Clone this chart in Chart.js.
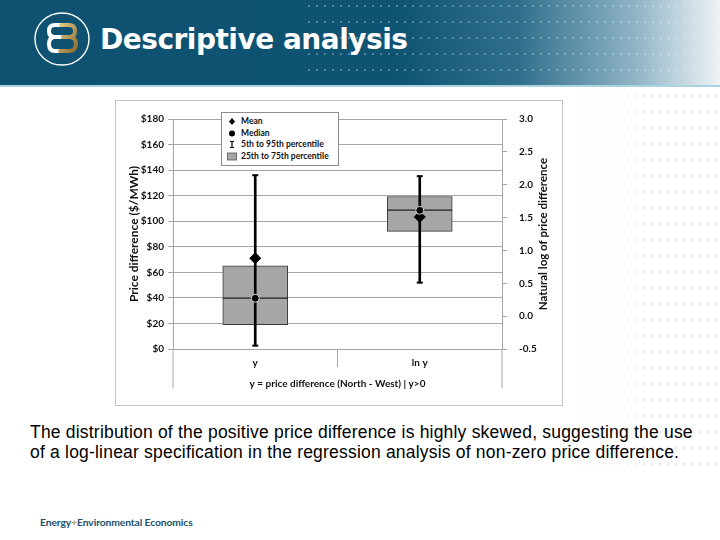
<!DOCTYPE html>
<html>
<head>
<meta charset="utf-8">
<script src="https://cdn.jsdelivr.net/npm/chart.js@4.4.0/dist/chart.umd.min.js"></script>
<style>
  html, body { margin: 0; padding: 0; }
  body { width: 720px; height: 540px; position: relative; overflow: hidden; background: #fff; font-family: 'Liberation Sans', Arial, sans-serif; }
  #header { position: absolute; left: 0; top: 0; width: 720px; height: 85px;
    background: linear-gradient(to right, #0e5171 0%, #0f5373 55%, #2f6f8c 72%, #8fb3c5 88%, #eef3f6 100%); }
  #header .dots { position: absolute; left: 305px; top: 0; width: 415px; height: 85px;
    background-image: radial-gradient(circle, rgba(255,255,255,0.28) 0.8px, transparent 1.2px);
    background-size: 8px 16px; background-position: 0 -2px; }
  #header .rule { position: absolute; left: 0; top: 85px; width: 720px; height: 2px; background: #a9d2e3; }
  #logo { position: absolute; left: 33px; top: 11px; }
  #title { position: absolute; left: 100px; top: 26px; color: #fff; font: bold 28px/1 'DejaVu Sans', Verdana, sans-serif; letter-spacing: -0.5px; }
  #sidedots { position: absolute; left: 560px; top: 88px; width: 160px; height: 390px;
    background-image: radial-gradient(circle, rgba(150,170,185,0.3) 0.8px, transparent 1.2px);
    background-size: 8px 16px;
    -webkit-mask-image: linear-gradient(to right, transparent, #000 70%); mask-image: linear-gradient(to right, transparent, #000 70%); }
  #chartBox { position: absolute; left: 115px; top: 100px; width: 446px; height: 304px; border: 1px solid #c4c4c4; background: #fff; }
  #chartBox canvas { display: block; }
  #legend { position: absolute; left: 221px; top: 112px; width: 118px; height: 54px; background: #fff; border: 1px solid #8c8c8c;
    font: bold 8.5px Lato, sans-serif; color: #111; padding-top: 3px; box-sizing: border-box; }
  #legend div { height: 11.5px; line-height: 11.5px; white-space: nowrap; position: relative; padding-left: 19px; }
  #legend svg { position: absolute; left: 6px; top: 1px; }
  #caption { position: absolute; left: 30px; top: 423px; font-size: 17.5px; line-height: 19.5px; letter-spacing: 0.2px; color: #000; white-space: nowrap; }
  #footer { position: absolute; left: 40px; top: 516px; font: bold 10.3px Lato, sans-serif; color: #22506c; letter-spacing: -0.1px; }
  #footer span { color: #c0a050; }
</style>
</head>
<body>
<div id="header">
  <div class="dots"></div>
  <div class="rule"></div>
  <svg id="logo" width="60" height="58" viewBox="0 0 60 58">
    <defs>
      <linearGradient id="gold" x1="0" y1="0" x2="1" y2="1">
        <stop offset="0" stop-color="#e0c883"/>
        <stop offset="1" stop-color="#8c6c2c"/>
      </linearGradient>
    </defs>
    <ellipse cx="29" cy="28" rx="27" ry="26" fill="none" stroke="#fff" stroke-width="1.4"/>
    <path d="M31 14 H22 Q16 14 16 20 Q16 26 22 26 H28 M22 26 Q16 26 16 33 Q16 40 22 40 H31" fill="none" stroke="#fff" stroke-width="4" stroke-linecap="round"/>
    <path d="M28 14 H36 Q42 14 42 20 Q42 26 36 26 H30 M36 26 Q43 26 43 33 Q43 40 36 40 H27" fill="none" stroke="url(#gold)" stroke-width="4" stroke-linecap="round"/>
  </svg>
  <div id="title">Descriptive analysis</div>
</div>
<div id="sidedots"></div>

<div id="chartBox"><canvas id="boxChart" width="446" height="304"></canvas></div>

<div id="legend">
  <div><svg width="8" height="9"><path d="M4 1 L7 4.5 L4 8 L1 4.5 Z" fill="#000"/></svg>Mean</div>
  <div><svg width="8" height="9"><circle cx="4" cy="4.5" r="3" fill="#000"/></svg>Median</div>
  <div><svg width="8" height="9"><path d="M2 1.5 H6 M4 1.5 V7.5 M2 7.5 H6" stroke="#000" stroke-width="1.2" fill="none"/></svg>5th to 95th percentile</div>
  <div><svg width="10" height="9" style="left:5px"><rect x="0.5" y="1" width="9" height="7" fill="#a6a6a6" stroke="#555" stroke-width="0.8"/></svg>25th to 75th percentile</div>
</div>

<div id="caption">The distribution of the positive price difference is highly skewed, suggesting the use<br>of a log-linear specification in the regression analysis of non-zero price difference.</div>

<div id="footer">Energy<span>+</span>Environmental Economics</div>

<script>
// categories (each one is read on its own axis: y in $/MWh, ln y on the right)
const categories = ['y', 'ln y'];
const p5 = [2.6, 0.51];
const p25 = [19, 1.29];
const median = [39.7, 1.61];
const mean = [71, 1.51];
const p75 = [65, 1.82];
const p95 = [136, 2.13];

const leftTicks = [0, 20, 40, 60, 80, 100, 120, 140, 160, 180];
const rightTicks = [-0.5, 0, 0.5, 1.0, 1.5, 2.0, 2.5, 3.0];

const axisIds = ['y', 'y1'];
const gridGray = '#a6a6a6';

// put value of category i only, null elsewhere
function onlyAt(i, v) {
    return categories.map((c, j) => (j === i ? v : null));
}

// marker for the median line across the box (an image, so the layout keeps no big point padding)
const medianBar = document.createElement('canvas');
medianBar.width = 65;
medianBar.height = 2;
const mctx = medianBar.getContext('2d');
mctx.fillStyle = '#1a1a1a';
mctx.fillRect(0, 0.5, 65, 1.3);

const datasets = [];
axisIds.forEach((axis, i) => {
    datasets.push({
        type: 'bar', yAxisID: axis, order: 6, grouped: false,
        data: onlyAt(i, [p25[i], p75[i]]),
        backgroundColor: '#a6a6a6', borderColor: '#3a3a3a', borderWidth: 1,
        borderSkipped: false, barThickness: 65
    });
    datasets.push({
        type: 'bar', yAxisID: axis, order: 5, grouped: false,
        data: onlyAt(i, [p5[i], p95[i]]),
        backgroundColor: '#000', borderWidth: 0, barThickness: 2
    });
    datasets.push({
        type: 'line', yAxisID: axis, order: 4, showLine: false,
        data: onlyAt(i, median[i]),
        pointStyle: medianBar, pointRadius: 1
    });
    [p5, p95].forEach(arr => {
        datasets.push({
            type: 'line', yAxisID: axis, order: 4, showLine: false,
            data: onlyAt(i, arr[i]),
            pointStyle: 'line', pointRadius: 3, borderColor: '#000', borderWidth: 2
        });
    });
    datasets.push({
        type: 'line', yAxisID: axis, order: 2, showLine: false,
        data: onlyAt(i, mean[i]),
        pointStyle: 'rectRot', pointRadius: 5.5, backgroundColor: '#000', borderColor: '#000', borderWidth: 1
    });
    datasets.push({
        type: 'line', yAxisID: axis, order: 1, showLine: false,
        data: onlyAt(i, median[i]),
        pointStyle: 'circle', pointRadius: 4, backgroundColor: '#000', borderColor: '#d8d8d8', borderWidth: 1
    });
});

// extra axis lines below the plot and the right axis title
const extras = {
    id: 'extras',
    afterDraw(chart) {
        const { ctx, chartArea, scales } = chart;
        const xs = scales.x;
        const mid = (xs.getPixelForTick(0) + xs.getPixelForTick(1)) / 2;
        ctx.save();
        ctx.strokeStyle = gridGray;
        ctx.lineWidth = 1;
        ctx.beginPath();
        [chartArea.left, chartArea.right].forEach(px => {
            ctx.moveTo(px, chartArea.bottom);
            ctx.lineTo(px, chartArea.bottom + 39);
        });
        ctx.moveTo(mid, chartArea.bottom);
        ctx.lineTo(mid, chartArea.bottom + 18);
        ctx.stroke();

        ctx.fillStyle = '#111';
        ctx.font = 'bold 11.5px Lato';
        ctx.textAlign = 'center';
        ctx.textBaseline = 'middle';
        ctx.translate(scales.y1.right - 19, (chartArea.top + chartArea.bottom) / 2);
        ctx.rotate(-Math.PI / 2);
        ctx.fillText('Natural log of price difference', 0, 0);
        ctx.restore();
    }
};

Chart.defaults.font.family = 'Lato';
Chart.defaults.font.weight = 'bold';
Chart.defaults.color = '#111';

new Chart(document.getElementById('boxChart'), {
    data: { labels: categories, datasets: datasets },
    plugins: [extras],
    options: {
        responsive: false,
        animation: false,
        layout: { padding: { top: 8.5, left: 0, right: 0, bottom: 0 } },
        plugins: { legend: { display: false }, tooltip: { enabled: false } },
        scales: {
            x: {
                type: 'category', offset: true,
                grid: { drawOnChartArea: false, drawTicks: false },
                border: { color: gridGray },
                ticks: { padding: 8, font: { size: 10, weight: 'bold' } },
                title: { display: true, text: 'y = price difference (North - West) | y>0',
                         font: { size: 10, weight: 'bold' }, padding: { top: 0, bottom: 15 } },
                afterFit: s => { s.height = 56; }
            },
            y: {
                position: 'left', min: 0, max: 180,
                afterBuildTicks: s => { s.ticks = leftTicks.map(v => ({ value: v })); },
                grid: { color: gridGray, tickLength: 5, tickColor: gridGray },
                border: { color: gridGray },
                ticks: { padding: 4, font: { size: 10, weight: 'bold' }, callback: v => '$' + v },
                title: { display: true, text: 'Price difference ($/MWh)',
                         font: { size: 12, weight: 'bold' }, padding: { top: 11, bottom: 0 } },
                afterFit: s => { s.width = 57; }
            },
            y1: {
                position: 'right', min: -0.5, max: 3.0,
                afterBuildTicks: s => { s.ticks = rightTicks.map(v => ({ value: v })); },
                grid: { drawOnChartArea: false, tickLength: 5, tickColor: gridGray },
                border: { color: gridGray },
                ticks: { padding: 12, font: { size: 10, weight: 'bold' }, callback: v => v.toFixed(1) },
                afterFit: s => { s.width = 60; }
            }
        }
    }
});
</script>
</body>
</html>
